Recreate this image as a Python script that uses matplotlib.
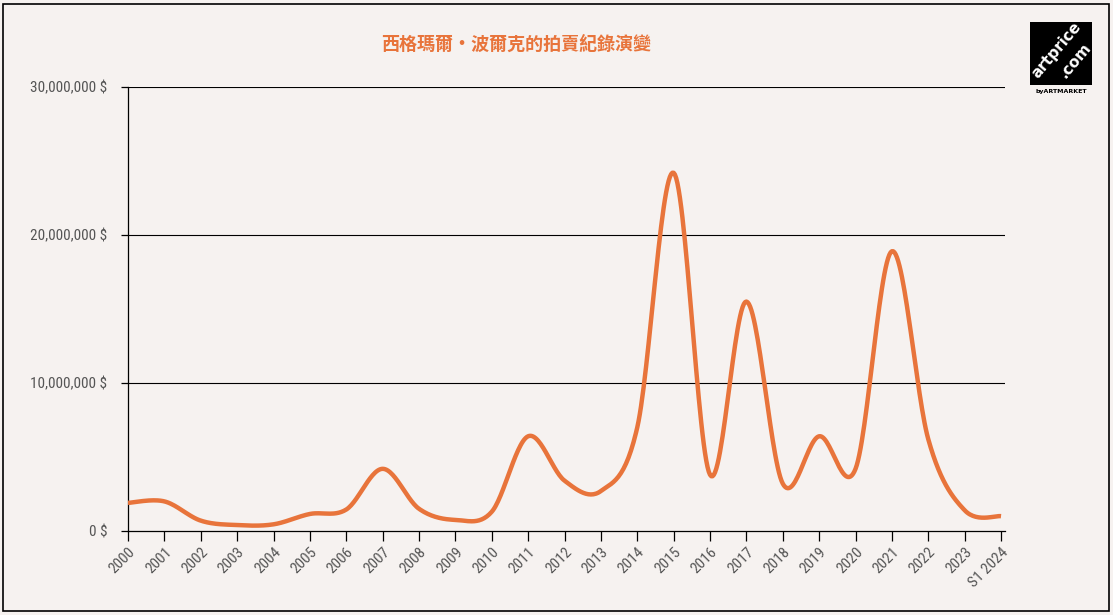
import numpy as np
import matplotlib.pyplot as plt
from matplotlib.patches import Rectangle
from matplotlib import font_manager

# valeurs (en dollars)
years = ['2000', '2001', '2002', '2003', '2004', '2005', '2006', '2007', '2008',
         '2009', '2010', '2011', '2012', '2013', '2014', '2015', '2016', '2017',
         '2018', '2019', '2020', '2021', '2022', '2023', 'S1 2024']
values = [1.9, 2.0, 0.7, 0.4, 0.45, 1.15, 1.45, 4.2, 1.5,
          0.75, 1.3, 6.4, 3.4, 2.7, 7.0, 24.2, 3.8, 15.5,
          3.2, 6.4, 4.2, 18.9, 6.2, 1.4, 1.0]
values = [v * 1e6 for v in values]

yticks = [0, 10e6, 20e6, 30e6]
ylabels = ['0 $', '10,000,000 $', '20,000,000 $', '30,000,000 $']
title = '西格瑪爾·波爾克的拍賣紀錄演變'

bg = '#f6f2f0'
orange = '#e8743b'

names = set(f.name for f in font_manager.fontManager.ttflist)
narrow = 'DejaVu Sans'
for cand in ['Liberation Sans Narrow', 'DejaVu Sans Condensed', 'Roboto Condensed']:
    if cand in names:
        narrow = cand
        break


def smooth(x, y, n=30):
    # courbe lissée de type Catmull-Rom passant par les points
    x = np.asarray(x, float)
    y = np.asarray(y, float)
    px = np.concatenate([[x[0]], x, [x[-1]]])
    py = np.concatenate([[y[0]], y, [y[-1]]])
    xs, ys = [], []
    t = np.linspace(0, 1, n)
    for i in range(1, len(px) - 2):
        p0x, p1x, p2x, p3x = px[i - 1], px[i], px[i + 1], px[i + 2]
        p0y, p1y, p2y, p3y = py[i - 1], py[i], py[i + 1], py[i + 2]
        c1x = p1x + (p2x - p0x) / 6
        c1y = p1y + (p2y - p0y) / 6
        c2x = p2x - (p3x - p1x) / 6
        c2y = p2y - (p3y - p1y) / 6
        bx = (1 - t)**3 * p1x + 3 * (1 - t)**2 * t * c1x + 3 * (1 - t) * t**2 * c2x + t**3 * p2x
        by = (1 - t)**3 * p1y + 3 * (1 - t)**2 * t * c1y + 3 * (1 - t) * t**2 * c2y + t**3 * p2y
        xs.extend(bx)
        ys.extend(by)
    return np.array(xs), np.array(ys)


fig = plt.figure(figsize=(11.13, 6.15), dpi=100)
fig.patch.set_facecolor(bg)
ax = fig.add_axes([0.115, 0.1366, 0.788, 0.722])
ax.set_facecolor(bg)

x = np.arange(len(years))
sx, sy = smooth(x, values)
ax.plot(sx, sy, color=orange, lw=3.2, solid_capstyle='butt', zorder=3)

ax.set_xlim(0, 24.11)
ax.set_ylim(0, 30e6)
ax.set_yticks(yticks)
ax.set_yticklabels(ylabels, fontsize=11, color='#555555', family=narrow)
ax.set_xticks(x)
ax.set_xticklabels(years, rotation=45, ha='right', va='top', rotation_mode='anchor',
                   fontsize=11, color='#555555', family=narrow)
for v in yticks[1:]:
    ax.axhline(v, color='black', lw=0.8, zorder=1)

for s in ['top', 'right']:
    ax.spines[s].set_visible(False)
ax.spines['left'].set_linewidth(0.9)
ax.spines['bottom'].set_linewidth(0.9)
ax.tick_params(axis='x', length=7, width=0.9, pad=3)
ax.tick_params(axis='y', length=5, width=0.9, pad=10)

fig.text(0.464, 0.928, title, ha='center', va='center', fontsize=13, color=orange,
         fontweight='bold', family=['Noto Sans CJK TC', 'DejaVu Sans'])

# logo artprice
fig.patches.append(Rectangle((1030 / 1113, 1 - 85 / 615), 62 / 1113, 63 / 615,
                             transform=fig.transFigure, facecolor='black', edgecolor='none'))
fig.text(1057 / 1113, 1 - 50 / 615, 'artprice', rotation=50, ha='center', va='center',
         color='white', fontsize=11, fontweight='bold')
fig.text(1075 / 1113, 1 - 60 / 615, '.com', rotation=50, ha='center', va='center',
         color='white', fontsize=11, fontweight='bold')
fig.text(1061 / 1113, 1 - 91 / 615, 'byARTMARKET', ha='center', va='center',
         color='black', fontsize=4.5, fontweight='bold')

# cadre
fig.patches.append(Rectangle((0.003, 0.006), 0.993, 0.988, transform=fig.transFigure,
                             facecolor='none', edgecolor='black', lw=1.2))

fig.savefig('out.png', dpi=100, facecolor=bg)
